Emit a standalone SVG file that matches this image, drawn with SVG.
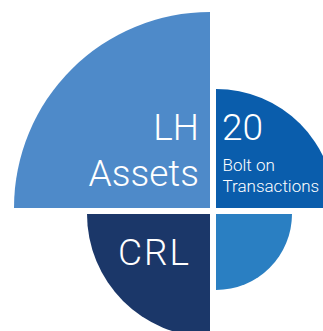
<svg xmlns="http://www.w3.org/2000/svg" width="323" height="331" viewBox="0 0 323 331">
  <style>
    .lbl { fill: #ffffff; font-family: Roboto, "Liberation Sans", Arial, sans-serif; font-weight: 300; }
    .big { font-size: 37px; }
    .small { font-size: 17px; }
  </style>
  <rect width="323" height="331" fill="#ffffff"/>
  <!-- quadrant segments sharing a common corner, separated by a 6px gutter -->
  <g id="lh-assets">
    <path d="M210,208 L14,208 A196,196 0 0 1 210,12 Z" fill="#4e8ac9"/>
    <text class="lbl big" x="199" y="139.5" text-anchor="end">LH</text>
    <text class="lbl big" x="199" y="186" text-anchor="end">Assets</text>
  </g>
  <g id="bolt-on">
    <path d="M216,208 L216,89 A119,119 0 0 1 335,208 Z" fill="#0a5dac"/>
    <text class="lbl big" x="222" y="139.5">20</text>
    <text class="lbl small" x="222.5" y="170.5">Bolt on</text>
    <text class="lbl small" x="222.5" y="192.3">Transactions</text>
  </g>
  <g id="crl">
    <path d="M210,214 L210,337 A123,123 0 0 1 87,214 Z" fill="#1b3769"/>
    <text class="lbl big" x="118" y="264.5" letter-spacing="2">CRL</text>
  </g>
  <g id="other">
    <path d="M216,214 L292,214 A76,76 0 0 1 216,290 Z" fill="#2a7fc2"/>
  </g>
  <g id="connectors"/>
</svg>
